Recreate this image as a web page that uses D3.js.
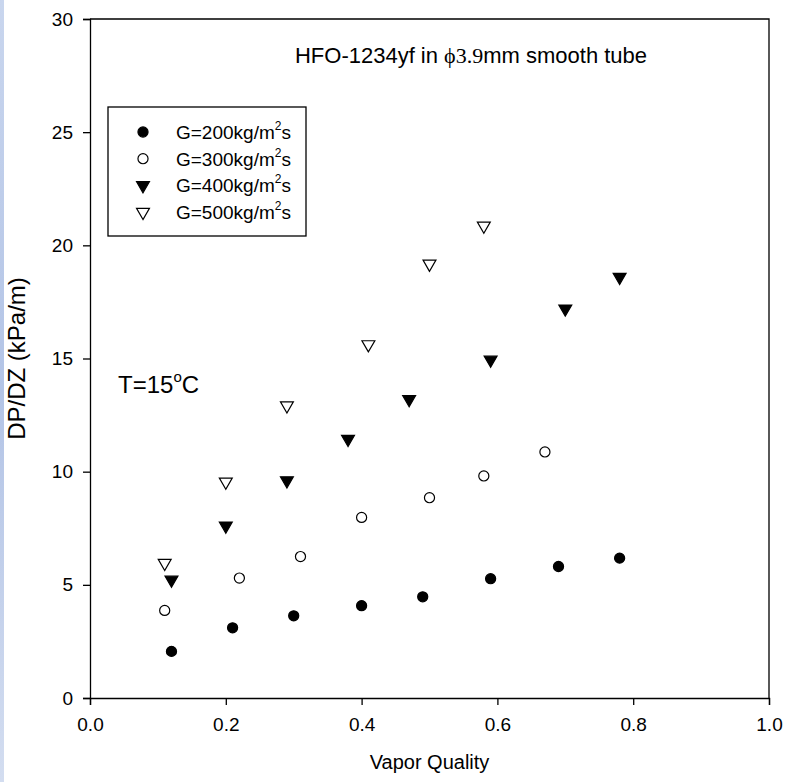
<!DOCTYPE html>
<html>
<head>
<meta charset="utf-8">
<script src="https://cdn.jsdelivr.net/npm/d3@7"></script>
<style>
  body { margin: 0; background: #fff; }
  svg text { font-family: "Liberation Sans", Arial, sans-serif; fill: #000; }
</style>
</head>
<body>
<div id="chart"></div>
<script>
// data
const x200 = [0.12, 0.21, 0.30, 0.40, 0.49, 0.59, 0.69, 0.78]
const y200 = [2.06, 3.10, 3.63, 4.08, 4.47, 5.27, 5.81, 6.18]
const x300 = [0.11, 0.22, 0.31, 0.40, 0.50, 0.58, 0.67]
const y300 = [3.87, 5.30, 6.25, 7.98, 8.85, 9.81, 10.87]
const x400 = [0.12, 0.20, 0.29, 0.38, 0.47, 0.59, 0.70, 0.78]
const y400 = [5.22, 7.61, 9.61, 11.44, 13.20, 14.94, 17.20, 18.60]
const x500 = [0.11, 0.20, 0.29, 0.41, 0.50, 0.58]
const y500 = [5.96, 9.55, 12.92, 15.62, 19.18, 20.86]

const xTicks = [0, 0.2, 0.4, 0.6, 0.8, 1.0]
const yTicks = [0, 5, 10, 15, 20, 25, 30]
const seriesNames = ["200", "300", "400", "500"]

const width = 787, height = 782
const margin = {top: 19, right: 18, bottom: 84, left: 90}

const svg = d3.select("#chart").append("svg")
    .attr("width", width)
    .attr("height", height)

// faint blue strip on the left edge of the scan
const grad = svg.append("defs").append("linearGradient")
    .attr("id", "strip").attr("x1", 0).attr("x2", 0).attr("y1", 0).attr("y2", 1)
grad.append("stop").attr("offset", "0%").attr("stop-color", "#c9d6ee")
grad.append("stop").attr("offset", "50%").attr("stop-color", "#b3c4e6")
grad.append("stop").attr("offset", "100%").attr("stop-color", "#d3ddf0")
svg.append("rect").attr("x", 0).attr("y", 0).attr("width", 4).attr("height", height)
    .attr("fill", "url(#strip)")

const x = d3.scaleLinear().domain([0, 1]).range([margin.left, width - margin.right])
const y = d3.scaleLinear().domain([0, 30]).range([height - margin.bottom, margin.top])

// frame (top + right)
svg.append("path")
    .attr("d", `M${x(0)},${y(30)}H${x(1)}V${y(0)}`)
    .attr("fill", "none").attr("stroke", "#000").attr("stroke-width", 1.3)

const xAxis = svg.append("g")
    .attr("transform", `translate(0,${y(0)})`)
    .call(d3.axisBottom(x).tickValues(xTicks).tickFormat(d3.format(".1f")).tickSize(7).tickPadding(13))
const yAxis = svg.append("g")
    .attr("transform", `translate(${x(0)},0)`)
    .call(d3.axisLeft(y).tickValues(yTicks).tickFormat(d3.format("d")).tickSize(7).tickPadding(10))

for (const ax of [xAxis, yAxis]) {
    ax.select(".domain").attr("stroke", "#000").attr("stroke-width", 1.3)
    ax.selectAll(".tick line").attr("stroke", "#000").attr("stroke-width", 1.3)
    ax.selectAll(".tick text").attr("font-size", 19).attr("font-family", "Liberation Sans, Arial, sans-serif")
}

// axis titles
svg.append("text")
    .attr("x", (x(0) + x(1)) / 2).attr("y", 769)
    .attr("text-anchor", "middle").attr("font-size", 20)
    .text("Vapor Quality")
svg.append("text")
    .attr("transform", `translate(25,${(y(0) + y(30)) / 2}) rotate(-90)`)
    .attr("text-anchor", "middle").attr("font-size", 24)
    .text("DP/DZ (kPa/m)")

// chart title
const title = svg.append("text")
    .attr("x", 471).attr("y", 63)
    .attr("text-anchor", "middle").attr("font-size", 22)
title.append("tspan").text("HFO-1234yf in ")
title.append("tspan").attr("font-family", "Liberation Serif, Times New Roman, serif").text("\u03d53.9")
title.append("tspan").text("mm smooth tube")

// temperature note
const tnote = svg.append("text").attr("x", 118).attr("y", 393).attr("font-size", 24)
tnote.append("tspan").text("T=15")
tnote.append("tspan").attr("font-size", 15).attr("dy", -11).text("o")
tnote.append("tspan").attr("dy", 11).text("C")

// markers
const circle = d3.symbol().type(d3.symbolCircle).size(80)
const tri = d3.symbol().type(d3.symbolTriangle).size(72)
const styles = [
    {path: circle(), rot: 0, fill: "#000"},
    {path: circle(), rot: 0, fill: "#fff"},
    {path: tri(), rot: 180, fill: "#000"},
    {path: tri(), rot: 180, fill: "#fff"}
]
const allSeries = [
    d3.zip(x200, y200), d3.zip(x300, y300), d3.zip(x400, y400), d3.zip(x500, y500)
]

allSeries.forEach(function(data, i) {
    svg.append("g").selectAll("path")
        .data(data)
        .join("path")
        .attr("d", styles[i].path)
        .attr("transform", d => `translate(${x(d[0])},${y(d[1])}) rotate(${styles[i].rot})`)
        .attr("fill", styles[i].fill)
        .attr("stroke", "#000")
        .attr("stroke-width", 1.2)
})

// legend
const legend = svg.append("g")
legend.append("rect")
    .attr("x", 108).attr("y", 107).attr("width", 198).attr("height", 129)
    .attr("fill", "#fff").attr("stroke", "#000").attr("stroke-width", 1.3)
seriesNames.forEach(function(name, i) {
    const cy = 132 + i * 26.7
    legend.append("path")
        .attr("d", styles[i].path)
        .attr("transform", `translate(143,${cy}) rotate(${styles[i].rot})`)
        .attr("fill", styles[i].fill).attr("stroke", "#000").attr("stroke-width", 1.2)
    const t = legend.append("text").attr("x", 176).attr("y", cy + 7).attr("font-size", 19)
    t.append("tspan").text(`G=${name}kg/m`)
    t.append("tspan").attr("font-size", 12).attr("dy", -9).text("2")
    t.append("tspan").attr("dy", 9).text("s")
})
</script>
</body>
</html>
